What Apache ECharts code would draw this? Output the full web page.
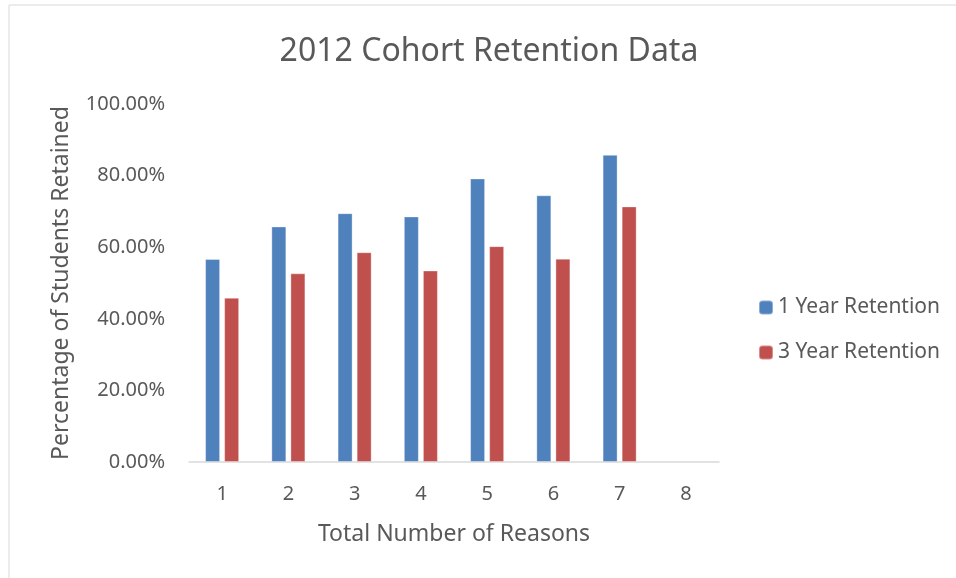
<!DOCTYPE html>
<html>
<head>
<meta charset="utf-8">
<script src="https://cdn.jsdelivr.net/npm/echarts@6/dist/echarts.min.js"></script>
<style>
html,body{margin:0;padding:0;background:#fff;}
#chart{width:956px;height:578px;}
</style>
</head>
<body>
<div id="chart"></div>
<script>
const categories = ['1','2','3','4','5','6','7','8'];
const oneYearRetention = [56.7, 65.8, 69.5, 68.6, 79.2, 74.5, 85.8, null];
const threeYearRetention = [45.9, 52.7, 58.6, 53.5, 60.3, 56.8, 71.4, null];
const yTicks = { min: 0, max: 100, interval: 20 };

const chart = echarts.init(document.getElementById('chart'));
const txt = '#595959';
const font = 'Noto Sans';
chart.setOption({
  backgroundColor: '#fff',
  animation: false,
  title: {
    text: '2012 Cohort Retention Data',
    left: 484, top: 31, textAlign: 'center',
    textStyle: { fontFamily: font, fontSize: 32, fontWeight: 'normal', color: txt }
  },
  graphic: [
    { type: 'line', shape: { x1: 9, y1: 5, x2: 956, y2: 5 }, style: { stroke: '#d9d9d9', lineWidth: 1 } },
    { type: 'line', shape: { x1: 9, y1: 5, x2: 9, y2: 578 }, style: { stroke: '#d9d9d9', lineWidth: 1 } }
  ],
  legend: {
    orient: 'vertical', left: 753, top: 292,
    itemWidth: 14, itemHeight: 14, itemGap: 24,
    textStyle: { fontFamily: font, fontSize: 21, color: txt },
    data: ['1 Year Retention', '3 Year Retention']
  },
  grid: { left: 189, right: 237, top: 104, bottom: 116, containLabel: false },
  xAxis: {
    type: 'category', data: categories,
    name: 'Total Number of Reasons', nameLocation: 'middle', nameGap: 61,
    nameTextStyle: { fontFamily: font, fontSize: 23, color: txt },
    axisLine: { lineStyle: { color: '#d9d9d9', width: 1.5 } },
    axisTick: { show: false },
    axisLabel: { fontFamily: font, fontSize: 20, color: txt, margin: 22 }
  },
  yAxis: {
    type: 'value', min: yTicks.min, max: yTicks.max, interval: yTicks.interval,
    name: 'Percentage of Students Retained', nameLocation: 'middle', nameGap: 116,
    nameTextStyle: { fontFamily: font, fontSize: 23, color: txt },
    axisLine: { show: false }, axisTick: { show: false }, splitLine: { show: false },
    axisLabel: { fontFamily: font, fontSize: 20, color: txt, margin: 24,
      formatter: v => v.toFixed(2) + '%' }
  },
  series: [
    { name: '1 Year Retention', type: 'bar', data: oneYearRetention, barWidth: 15, barGap: '27%',
      itemStyle: { color: '#4F81BD', borderColor: 'rgba(255,255,255,0.35)', borderWidth: 1 } },
    { name: '3 Year Retention', type: 'bar', data: threeYearRetention, barWidth: 15,
      itemStyle: { color: '#C0504D', borderColor: 'rgba(255,255,255,0.35)', borderWidth: 1 } }
  ]
});
</script>
</body>
</html>
